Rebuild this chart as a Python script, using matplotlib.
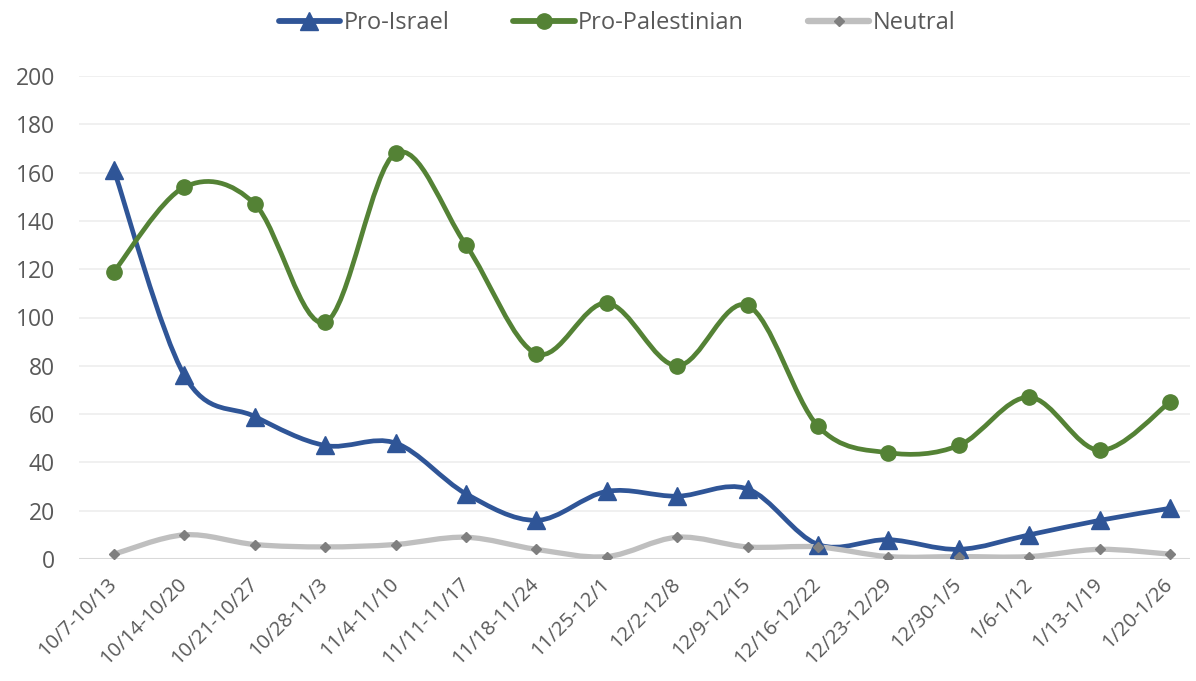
"""Weekly stance counts, Excel-style smoothed line chart."""
import matplotlib
matplotlib.use('Agg')
import matplotlib.pyplot as plt
import numpy as np
from matplotlib.path import Path
from matplotlib.patches import PathPatch
from matplotlib.lines import Line2D

weeks = ['10/7-10/13', '10/14-10/20', '10/21-10/27', '10/28-11/3', '11/4-11/10',
         '11/11-11/17', '11/18-11/24', '11/25-12/1', '12/2-12/8', '12/9-12/15',
         '12/16-12/22', '12/23-12/29', '12/30-1/5', '1/6-1/12', '1/13-1/19',
         '1/20-1/26']
pro_israel = [161, 76, 59, 47, 48, 27, 16, 28, 26, 29, 6, 8, 4, 10, 16, 21]
pro_palestinian = [119, 154, 147, 98, 168, 130, 85, 106, 80, 105, 55, 44, 47, 67, 45, 65]
neutral = [2, 10, 6, 5, 6, 9, 4, 1, 9, 5, 5, 1, 1, 1, 4, 2]

TEXT = '#595959'
C_ISR = '#2F5597'
C_PAL = '#548235'
C_NEU = '#BFBFBF'
C_NEU_MK = '#7F7F7F'
FONT = ['Open Sans', 'DejaVu Sans']

plt.rcParams['font.family'] = FONT

fig = plt.figure(figsize=(11.96, 6.81), dpi=100)
ax = fig.add_axes([78.5 / 1196, 122 / 681, (1190 - 78.5) / 1196, 483 / 681])


def smooth_path(xs, ys):
    # Catmull-Rom style bezier, close to Excel's "smoothed line"
    pts = np.column_stack([xs, ys]).astype(float)
    n = len(pts)
    verts = [pts[0]]
    codes = [Path.MOVETO]
    for i in range(n - 1):
        p0 = pts[i - 1] if i > 0 else pts[i]
        p1 = pts[i]
        p2 = pts[i + 1]
        p3 = pts[i + 2] if i + 2 < n else pts[i + 1]
        c1 = p1 + (p2 - p0) / 6.0
        c2 = p2 - (p3 - p1) / 6.0
        verts += [c1, c2, p2]
        codes += [Path.CURVE4] * 3
    return Path(verts, codes)


x = np.arange(len(weeks))
series = [
    ('Pro-Israel', pro_israel, C_ISR, '^', 13.5, C_ISR, 3.4),
    ('Pro-Palestinian', pro_palestinian, C_PAL, 'o', 11, C_PAL, 3.4),
    ('Neutral', neutral, C_NEU, 'D', 5, C_NEU_MK, 3.8),
]

handles = []
for name, vals, col, mk, ms, mcol, lw in series:
    ax.add_patch(PathPatch(smooth_path(x, vals), facecolor='none', edgecolor=col,
                           lw=lw, capstyle='round', joinstyle='round', zorder=3))
    ax.plot(x, vals, linestyle='none', marker=mk, markersize=ms,
            color=mcol, markeredgecolor=mcol, zorder=4)
    handles.append(Line2D([0], [0], color=col, lw=lw + 0.8, marker=mk,
                          markersize=ms, markerfacecolor=mcol,
                          markeredgecolor=mcol, label=name,
                          solid_capstyle='round'))

ax.set_xlim(-0.504, 15.284)
ax.set_ylim(0, 200)
ax.set_yticks(range(0, 201, 20))
ax.yaxis.grid(True, color='#EDEDED', lw=1.2)
ax.set_axisbelow(True)
ax.axhline(0, color='#D9D9D9', lw=1.5, zorder=1)
for s in ax.spines.values():
    s.set_visible(False)
ax.tick_params(axis='both', length=0, labelcolor=TEXT)
ax.tick_params(axis='y', pad=17, labelsize=16.5)
ax.set_xticks(x)
ax.set_xticklabels(weeks, rotation=45, ha='right', va='center',
                   rotation_mode='anchor')
ax.tick_params(axis='x', pad=16, labelsize=14.5)

fig.legend(handles=handles, loc='center', bbox_to_anchor=(0.516, 0.966),
           ncol=3, frameon=False, fontsize=17, labelcolor=TEXT,
           handlelength=2.6, handletextpad=0.15, columnspacing=2.7)

fig.savefig('out.png', dpi=100, facecolor='white')
